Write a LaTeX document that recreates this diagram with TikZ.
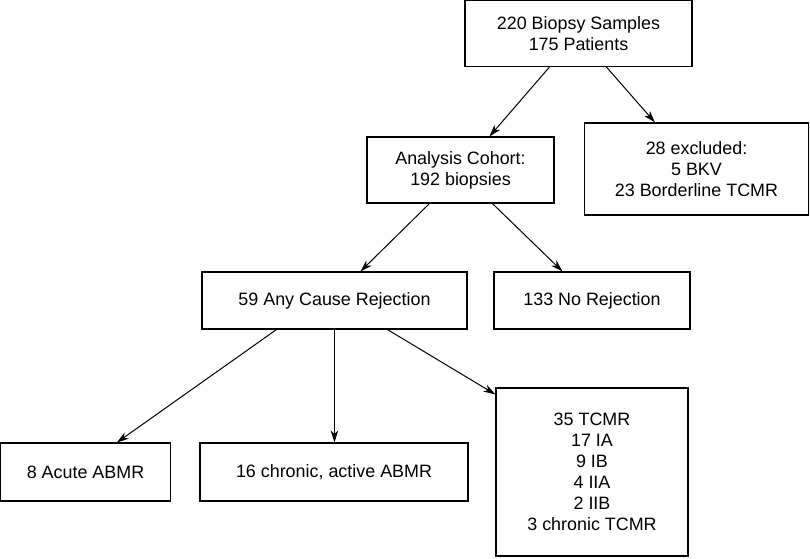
\documentclass[tikz,border=0pt]{standalone}
\usepackage{fontspec}
\setmainfont{Liberation Sans}
\usetikzlibrary{arrows.meta}
\begin{document}
\begin{tikzpicture}[x=1pt,y=-1pt,
  box/.style={draw=black, line width=1.1pt, inner sep=0pt, align=center,
    font=\fontsize{17.9}{21}\selectfont},
  conn/.style={draw=black, line width=1.0pt, -{Stealth[length=12pt,width=7.5pt,inset=3.5pt]}}]
\useasboundingbox (0,0) rectangle (810,558);
\node[box, minimum width=227pt, minimum height=66pt] (b1) at (578.5,33.5) {220 Biopsy Samples\\175 Patients};
\node[box, minimum width=224pt, minimum height=92pt] (b2) at (696.5,169) {28 excluded:\\5 BKV\\23 Borderline TCMR};
\node[box, minimum width=187pt, minimum height=66pt] (b3) at (460.5,170) {Analysis Cohort:\\192 biopsies};
\node[box, minimum width=265pt, minimum height=57pt] (b4) at (334.5,300.5) {59 Any Cause Rejection};
\node[box, minimum width=196pt, minimum height=57pt] (b5) at (592,300.5) {133 No Rejection};
\node[box, minimum width=170pt, minimum height=58pt] (b6) at (85.5,472) {8 Acute ABMR};
\node[box, minimum width=268pt, minimum height=58pt] (b7) at (334,472) {16 chronic, active ABMR};
\node[box, minimum width=192pt, minimum height=168pt] (b8) at (592,472) {35 TCMR\\17 IA\\9 IB\\4 IIA\\2 IIB\\3 chronic TCMR};
\draw[conn] ([xshift=85pt]b1.south west) -- ([xshift=123pt]b3.north west);
\draw[conn] ([xshift=142pt]b1.south west) -- ([xshift=71pt]b2.north west);
\draw[conn] ([xshift=63pt]b3.south west) -- ([xshift=159pt]b4.north west);
\draw[conn] ([xshift=126pt]b3.south west) -- ([xshift=69pt]b5.north west);
\draw[conn] ([xshift=75pt]b4.south west) -- ([xshift=117pt]b6.north west);
\draw[conn] ([xshift=133pt]b4.south west) -- ([xshift=135pt]b7.north west);
\draw[conn] ([xshift=186pt]b4.south west) -- ([yshift=-7pt]b8.north west);
\end{tikzpicture}
\end{document}
